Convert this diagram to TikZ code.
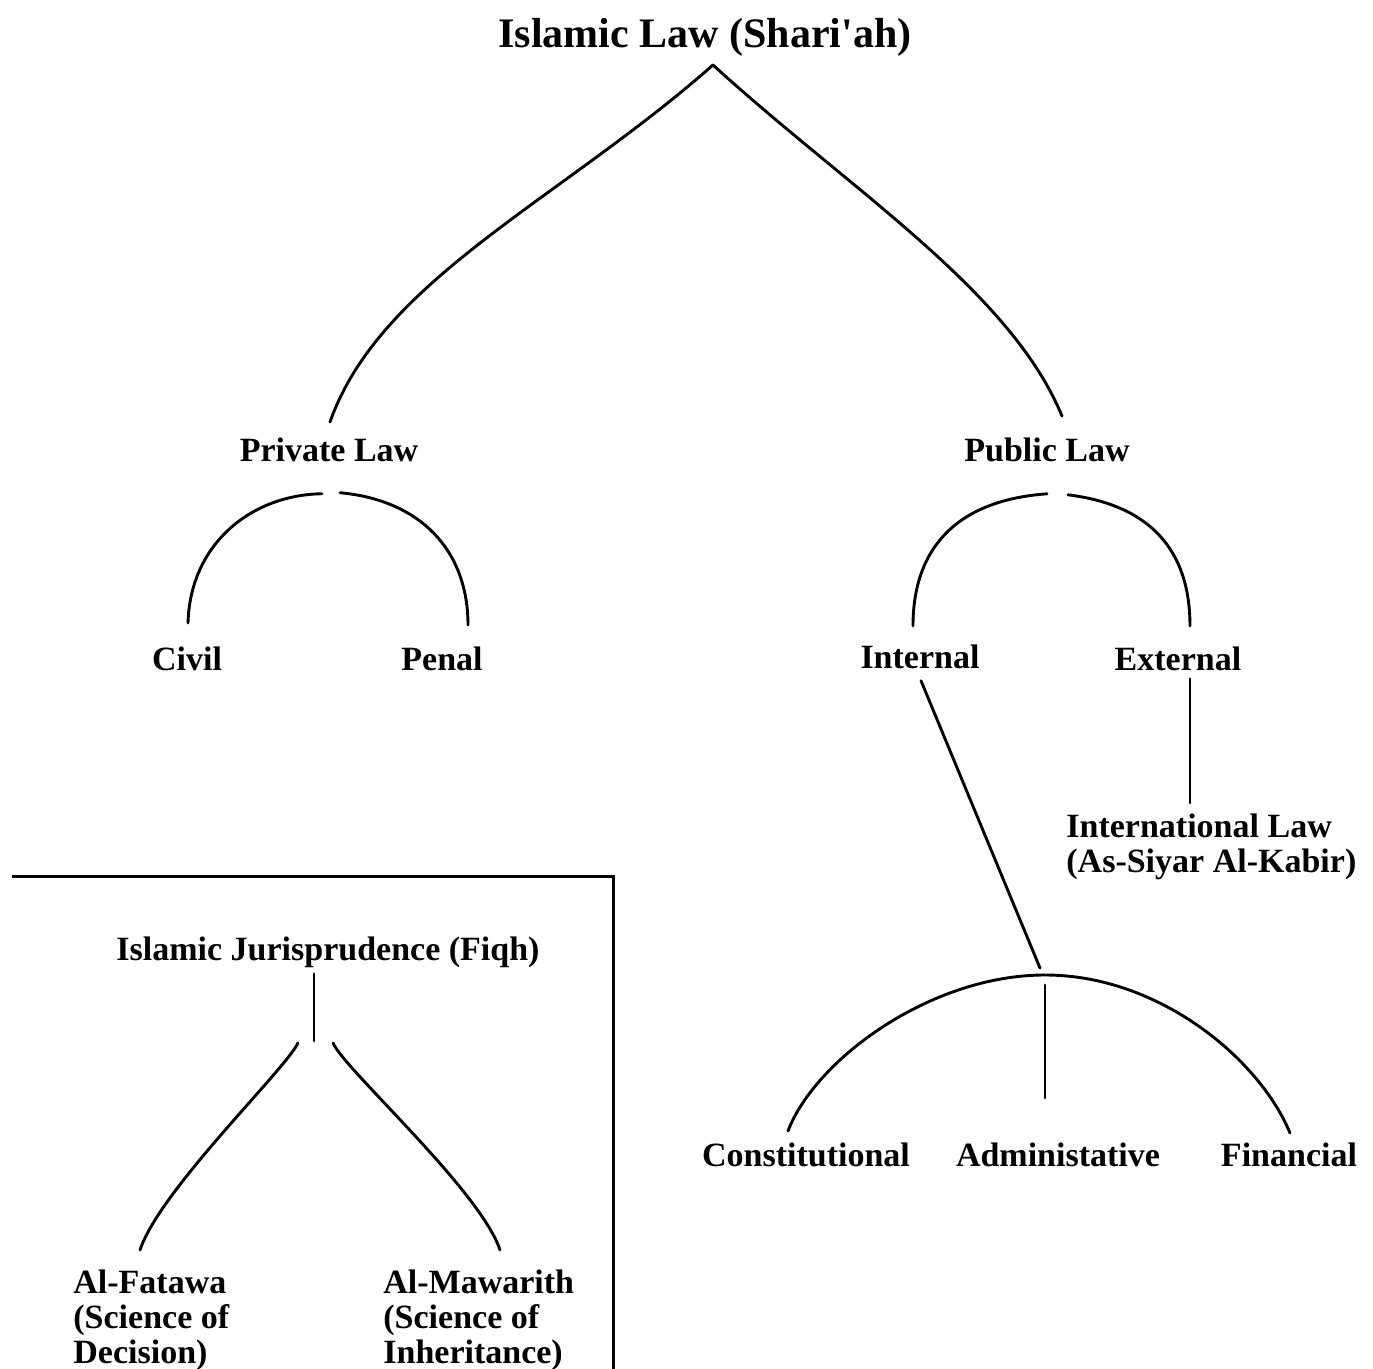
\documentclass[tikz,border=0pt]{standalone}
\usepackage{fontspec}
\setmainfont{Liberation Serif}
\usetikzlibrary{calc}

\newcommand{\lblfont}{\fontsize{17}{17.5}\selectfont\bfseries}
\newcommand{\topfont}{\fontsize{21}{24}\selectfont\bfseries}

\tikzset{
  lbl/.style={font=\lblfont, inner sep=0pt, anchor=base},
  blk/.style={font=\lblfont, inner sep=0pt, anchor=north west, align=left},
  branch/.style={line width=1.45pt, line cap=round},
}

\begin{document}
\begin{tikzpicture}[x=0.5pt, y=-0.5pt]
	\useasboundingbox (0,0) rectangle (1373,1369);
	% labels
	\node [lbl, font=\topfont] (shariah) at (705,48) {Islamic Law (Shari\textquotesingle ah)};
	\node [lbl] (priv) at (329,462) {Private Law};
	\node [lbl] (publ) at (1047,462) {Public Law};
	\node [lbl] (civil) at (187,671) {Civil};
	\node [lbl] (penal) at (442,671) {Penal};
	\node [lbl] (internal) at (920,669) {Internal};
	\node [lbl] (external) at (1178,671) {External};
	\node [blk] (intl) at (1066,814) {International Law\\(As-Siyar Al-Kabir)};
	\node [lbl] (const) at (806,1166) {Constitutional};
	\node [lbl] (admin) at (1058,1166) {Administative};
	\node [lbl] (fin) at (1289,1166) {Financial};
	\node [lbl] (fiqh) at (328,961) {Islamic Jurisprudence (Fiqh)};
	\node [blk] (fatawa) at (73,1270) {Al-Fatawa\\(Science of\\Decision)};
	\node [blk] (mawarith) at (383,1270) {Al-Mawarith\\(Science of\\Inheritance)};

	\coordinate (apex) at (713,65);
	\coordinate (adm) at (1045,975);
	\coordinate (fiqhfork) at (314,1041);

	% shari'ah
	\draw [branch] (apex) .. controls (560,200) and (380,280) .. ($(priv.north)+(1,-16)$);
	\draw [branch] (apex) .. controls (850,190) and (1010,290) .. ($(publ.north)+(15,-22)$);
	% private law
	\draw [branch] ($(priv.south)+(-7,31)$) .. controls (250,495) and (190,545) .. ($(civil.north)+(1,-24)$);
	\draw [branch] ($(priv.south)+(11,30)$) .. controls (420,500) and (468,550) .. ($(penal.north)+(26,-22)$);
	% public law
	\draw [branch] ($(publ.south)+(0,31)$) .. controls (960,500) and (913,545) .. ($(internal.north)+(-7,-19)$);
	\draw [branch] ($(publ.south)+(21,32)$) .. controls (1150,505) and (1190,550) .. ($(external.north)+(12,-21)$);
	\draw [branch] ($(external.south)+(12,7)$) -- ($(intl.north west)+(124,-11)$);
	\draw [branch] ($(internal.south)+(1,11)$) -- ($(adm)+(-5,-7)$);
	% internal
	\draw [branch] ($(const.north)+(-18,-11)$) .. controls (815,1060) and (930,975) .. (adm)
		.. controls (1160,975) and (1260,1060) .. ($(fin.north)+(1,-9)$);
	\draw [branch] ($(adm)+(0,10)$) -- ($(admin.north)+(-13,-44)$);

	% fiqh box
	\draw [line width=1.5pt] (12,877) -- (613,877) -- (613,1369);
	\draw [branch] ($(fiqh.south)+(-14,5)$) -- (fiqhfork);
	\draw [branch] ($(fiqhfork)+(-16,2)$) .. controls (285,1070) and (160,1190) .. ($(fatawa.north west)+(67,-20)$);
	\draw [branch] ($(fiqhfork)+(19,2)$) .. controls (345,1070) and (480,1190) .. ($(mawarith.north west)+(117,-20)$);
\end{tikzpicture}
\end{document}
